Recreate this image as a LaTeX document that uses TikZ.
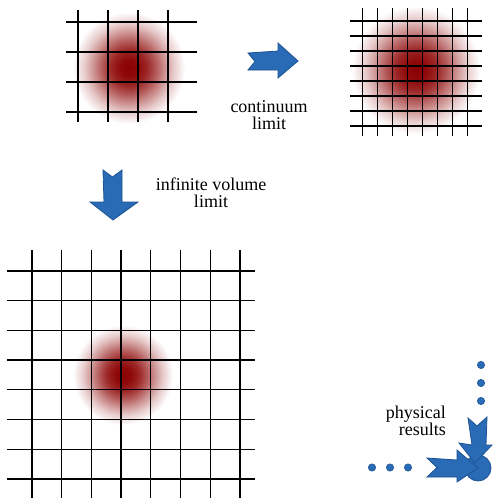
\documentclass[tikz,border=0pt]{standalone}
\usepackage{fontspec}
\setmainfont{Liberation Serif}
\usepackage{xcolor}
\usepackage{tikz}
\usetikzlibrary{positioning}
\definecolor{C_BLOB} {HTML}{8B0000}
\definecolor{C_ARR}  {HTML}{2A6BB6}
\definecolor{C_ARRD} {HTML}{1D5394}
%% gaussian-like blob profile
\pgfdeclareradialshading{blob}{\pgfpoint{0bp}{0bp}}{%
  color(0bp)=(C_BLOB);
  color(4bp)=(C_BLOB!96!white);
  color(8bp)=(C_BLOB!85!white);
  color(12bp)=(C_BLOB!65!white);
  color(16bp)=(C_BLOB!42!white);
  color(20bp)=(C_BLOB!20!white);
  color(25bp)=(white);
  color(50bp)=(white)}
\tikzset{
  %% -- lattice lines --
  lat/line/.style={draw=black, line width=1.3pt},
  %% -- wave packet --
  lat/blob/.style={shading=blob},
  %% -- fat block arrows --
  big/arr/.style={fill=C_ARR, draw=C_ARRD, line width=0.8pt, line join=miter},
  big/dot/.style={fill=C_ARR, draw=C_ARRD, line width=0.5pt},
  %% -- captions --
  lbl/cap/.style={font=\fontsize{18}{17}\selectfont, align=center, inner sep=0pt},
}

\begin{document}
\begin{tikzpicture}[x=1pt, y=-1pt]
\useasboundingbox (0,0) rectangle (494,498);

%% ── Coarse lattice (top left) ────────────────────────────────
\shade[lat/blob] (129,68) circle (56pt);
\foreach \i in {0,...,3} {
  \draw[lat/line] ({78+30*\i},10) -- ({78+30*\i},122);
  \draw[lat/line] (66,{22+30*\i}) -- (197,{22+30*\i});
}

%% ── Fine lattice (top right) ─────────────────────────────────
\shade[lat/blob] (416,70) circle (64pt);
\foreach \i in {0,...,7} {
  \draw[lat/line] ({362.5+15*\i},8) -- ({362.5+15*\i},136);
  \draw[lat/line] (350,{21+15*\i}) -- (482,{21+15*\i});
}

%% ── Large lattice (bottom left) ──────────────────────────────
\shade[lat/blob] (123,375) circle (50pt);
\foreach \i in {0,...,7} {
  \draw[lat/line] ({32+29.7*\i},250) -- ({32+29.7*\i},498);
  \draw[lat/line] (7,{271+29.7*\i}) -- (255,{271+29.7*\i});
}

%% ── Limit arrows ─────────────────────────────────────────────
%% continuum limit (pointing right)
\draw[big/arr] (248,53) -- (278,51) -- (278,43) -- (298,61)
  -- (278,78) -- (278,70) -- (248,70) -- (255,61.5) -- cycle;
%% infinite volume limit (pointing down)
\draw[big/arr] (103,170) -- (112.5,177) -- (122,170) -- (122,202)
  -- (138,202) -- (113,220) -- (90,202) -- (104,202) -- cycle;

\node[lbl/cap] (contlim) at (269,115.5) {continuum\\limit};
\node[lbl/cap] (infvol)  at (211,192.5) {infinite volume\\limit};

%% ── Physical results (bottom right) ──────────────────────────
\foreach \x [count=\k] in {372,390,408}
  \fill[big/dot] (\x,467.5) circle (3.7pt) coordinate (hdot\k);
\foreach \y [count=\k] in {365,383,401}
  \fill[big/dot] (481,\y) circle (3.7pt) coordinate (vdot\k);

\draw[big/arr] (478,468) circle (13pt);
\draw[big/arr] (468,418) -- (477,426) -- (487,417) -- (486,445)
  -- (492,445) -- (475,463) -- (459,443) -- (472,445) -- cycle;
\draw[big/arr] (427,458) -- (457,460) -- (457,450) -- (478,468)
  -- (457,482) -- (457,477) -- (427,477) -- (437,467.5) -- cycle;

\node[lbl/cap, align=right, anchor=east] (phys) at (446,420.5)
  {physical\\results};

\end{tikzpicture}
\end{document}
